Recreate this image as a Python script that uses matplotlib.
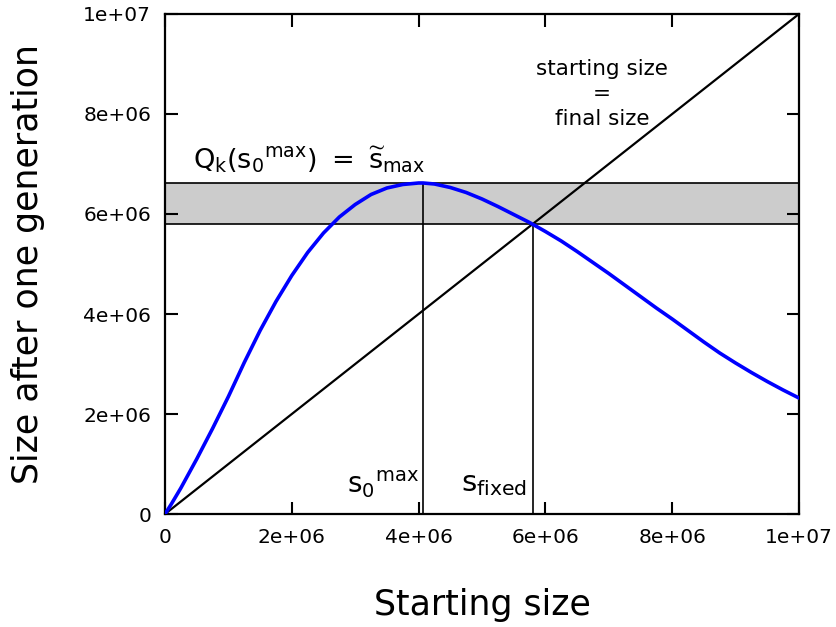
import numpy as np
import matplotlib
matplotlib.use("Agg")
import matplotlib.pyplot as plt

# curve Q_k(s): size after one generation (units of 1e6)
start_size = [0, 0.1, 0.25, 0.5, 0.75, 1.0, 1.25, 1.5, 1.75, 2.0, 2.25, 2.5,
              2.75, 3.0, 3.25, 3.5, 3.75, 4.0, 4.07, 4.25, 4.5, 4.75, 5.0,
              5.25, 5.5, 5.75, 6.0, 6.25, 6.5, 6.75, 7.0, 7.25, 7.5, 7.75,
              8.0, 8.25, 8.5, 8.75, 9.0, 9.25, 9.5, 9.75, 10.0]
next_size = [0, 0.2, 0.52, 1.1, 1.71, 2.35, 3.03, 3.67, 4.25, 4.77, 5.23,
             5.62, 5.94, 6.19, 6.39, 6.52, 6.59, 6.62, 6.62, 6.6, 6.53, 6.43,
             6.3, 6.15, 5.99, 5.83, 5.65, 5.46, 5.25, 5.03, 4.81, 4.58, 4.35,
             4.12, 3.9, 3.67, 3.44, 3.22, 3.02, 2.83, 2.65, 2.48, 2.32]

s0_max = 4.07e6
s_max = 6.62e6
s_fixed = 5.8e6

x = np.array(start_size) * 1e6
y = np.array(next_size) * 1e6

fig = plt.figure(figsize=(8.36, 6.27), dpi=100)
ax = fig.add_axes([0.1974, 0.1802, 0.7583, 0.7975])

# band between fixed point and the maximum
ax.axhspan(s_fixed, s_max, color="#cccccc", lw=0, zorder=0)
ax.axhline(s_fixed, color="black", lw=1.2, zorder=1)
ax.axhline(s_max, color="black", lw=1.2, zorder=1)

ax.plot([0, 1e7], [0, 1e7], color="black", lw=1.6, zorder=2)
ax.plot([s0_max, s0_max], [0, s_max], color="black", lw=1.2, zorder=2)
ax.plot([s_fixed, s_fixed], [0, s_fixed], color="black", lw=1.2, zorder=2)
ax.plot(x, y, color="#0000ff", lw=2.6, zorder=3, solid_joinstyle="round")

ax.set_xlim(0, 1e7)
ax.set_ylim(0, 1e7)

ticks = [0, 2e6, 4e6, 6e6, 8e6, 1e7]
labels = ["0", "2e+06", "4e+06", "6e+06", "8e+06", "1e+07"]
ax.set_xticks(ticks)
ax.set_xticklabels(labels)
ax.set_yticks(ticks)
ax.set_yticklabels(labels)
ax.tick_params(direction="in", length=9, width=1.5, top=True, right=True,
               labelsize=14.5, pad=10)
for sp in ax.spines.values():
    sp.set_linewidth(1.6)

ax.set_xlabel("Starting size", fontsize=25)
ax.xaxis.set_label_coords(0.5, -0.148)
ax.set_ylabel("Size after one generation", fontsize=25)
ax.yaxis.set_label_coords(-0.19, 0.5)

ax.text(6.89e6, 8.4e6, "starting size\n=\nfinal size", fontsize=15.5,
        ha="center", va="center", linespacing=1.3)
ax.text(0.44e6, 7.08e6, r"$\mathregular{Q_k({s_0}^{max})\ =\ \widetilde{s}_{max}}$",
        fontsize=19.5, ha="left", va="center")
ax.text(4.0e6, 0.6e6, r"$\mathregular{{s_0}^{max}}$", fontsize=20,
        ha="right", va="center")
ax.text(5.71e6, 0.6e6, r"$\mathregular{s_{fixed}}$", fontsize=21,
        ha="right", va="center")

fig.savefig("out.png", dpi=100)
